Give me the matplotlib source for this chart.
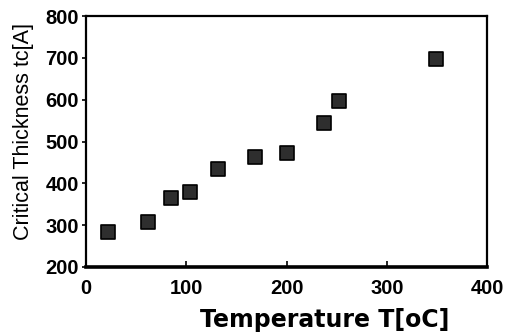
import matplotlib
matplotlib.use("Agg")
import matplotlib.pyplot as plt

# temperature [oC] vs critical thickness [A]
temperature = [22, 62, 85, 104, 132, 169, 200, 237, 252, 349]
thickness   = [283, 308, 364, 379, 434, 464, 473, 544, 596, 697]

fig = plt.figure(figsize=(5.08, 3.35), dpi=100)
ax = fig.add_axes([0.169, 0.203, 0.790, 0.749])

ax.scatter(temperature, thickness, marker='s', s=105, facecolor='#2e2e2e',
           edgecolor='black', linewidth=1.2, zorder=3)

ax.set_xlim(0, 400)
ax.set_ylim(200, 800)
ax.set_xticks([0, 100, 200, 300, 400])
ax.set_yticks([200, 300, 400, 500, 600, 700, 800])

for s in ['left', 'top', 'right']:
    ax.spines[s].set_linewidth(1.6)
ax.spines['bottom'].set_linewidth(2.6)

ax.tick_params(axis='y', direction='out', length=3, width=1.2, pad=2)
ax.tick_params(axis='x', direction='in', length=4, width=1.2, pad=9)
for lab in ax.get_xticklabels() + ax.get_yticklabels():
    lab.set_fontfamily('Liberation Sans')
    lab.set_fontweight('bold')
    lab.set_fontsize(14.5)

ax.set_ylabel("Critical Thickness tc[A]", fontsize=15.5,
              family='Liberation Sans')
ax.yaxis.set_label_coords(-0.13, 0.54)
ax.set_xlabel("Temperature T[oC]", fontsize=17, family='DejaVu Sans',
              fontweight='heavy')
ax.xaxis.set_label_coords(0.594, -0.165)

fig.savefig("out.png", dpi=100)
plt.close(fig)
